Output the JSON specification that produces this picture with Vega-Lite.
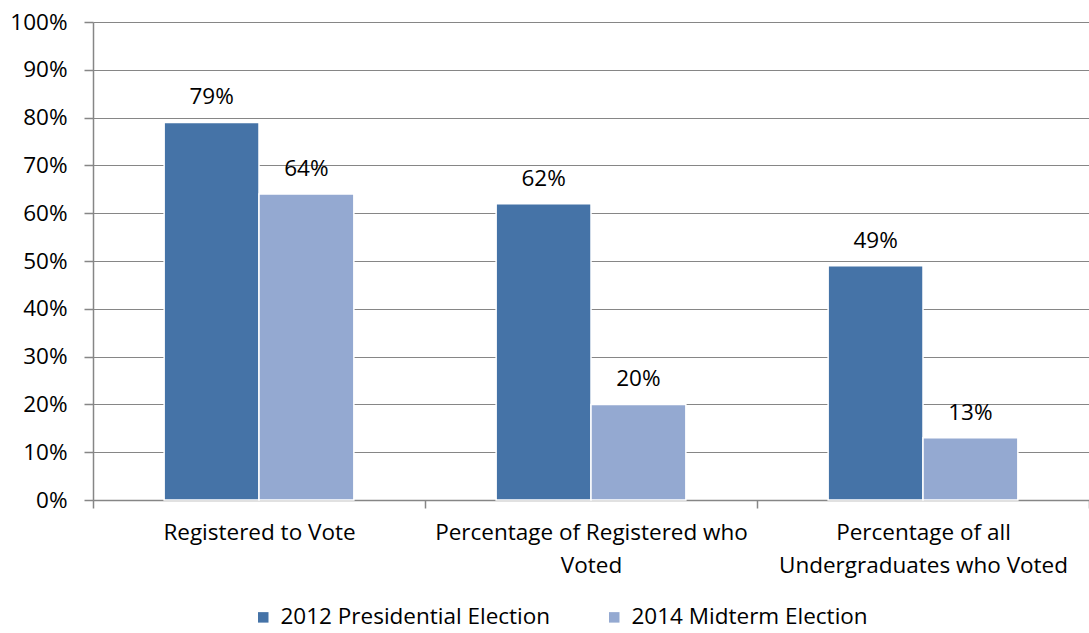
{
  "$schema": "https://vega.github.io/schema/vega-lite/v6.json",
  "autosize": {"type": "none"},
  "width": 996,
  "height": 478,
  "padding": {"left": 93, "top": 22, "right": 0, "bottom": 133},
  "background": "white",
  "config": {
    "font": "Open Sans",
    "view": {"stroke": null},
    "axis": {"labelFont": "Open Sans", "labelFontSize": 22.5, "labelColor": "#000000", "domainColor": "#868686", "tickColor": "#868686", "gridColor": "#868686"}
  },
  "data": {
    "values": [
      {"category": "Registered to Vote", "series": "2012 Presidential Election", "value": 0.79},
      {"category": "Registered to Vote", "series": "2014 Midterm Election", "value": 0.64},
      {"category": "Percentage of Registered who|Voted", "series": "2012 Presidential Election", "value": 0.62},
      {"category": "Percentage of Registered who|Voted", "series": "2014 Midterm Election", "value": 0.20},
      {"category": "Percentage of all|Undergraduates who Voted", "series": "2012 Presidential Election", "value": 0.49},
      {"category": "Percentage of all|Undergraduates who Voted", "series": "2014 Midterm Election", "value": 0.13}
    ]
  },
  "encoding": {
    "x": {
      "field": "category", "type": "nominal", "sort": null, "title": null,
      "scale": {"paddingInner": 0, "paddingOuter": 0},
      "axis": {"labelAngle": 0, "tickBand": "extent", "tickSize": 8, "labelPadding": 13, "labelLimit": 0, "labelExpr": "datum.value ? split(datum.value, '|') : ''", "labelLineHeight": 33, "labelBaseline": "top", "domainWidth": 1.5, "tickWidth": 1.5}
    },
    "xOffset": {"field": "series", "type": "nominal", "scale": {"paddingInner": 0, "paddingOuter": 0.75}},
    "y": {
      "field": "value", "type": "quantitative", "title": null,
      "scale": {"domain": [0, 1], "nice": false},
      "axis": {"format": ".0%", "values": [0, 0.1, 0.2, 0.3, 0.4, 0.5, 0.6, 0.7, 0.8, 0.9, 1], "tickSize": 9, "labelPadding": 17, "grid": true, "gridWidth": 1.2, "domainWidth": 1.5, "tickWidth": 1.5}
    }
  },
  "layer": [
    {
      "mark": {"type": "bar", "stroke": "white", "strokeWidth": 1.5},
      "encoding": {
        "color": {
          "field": "series", "type": "nominal",
          "scale": {"domain": ["2012 Presidential Election", "2014 Midterm Election"], "range": ["#4573A7", "#94A9D1"]},
          "legend": {"orient": "none", "legendX": 159, "legendY": 584, "direction": "horizontal", "title": null, "symbolType": "square", "symbolSize": 110, "symbolStrokeWidth": 0, "labelFont": "Open Sans", "labelFontSize": 22.5, "labelColor": "#000000", "labelLimit": 0, "labelOffset": 6, "columnPadding": 52}
        }
      }
    },
    {
      "mark": {"type": "text", "baseline": "bottom", "dy": -13, "font": "Open Sans", "fontSize": 22.5, "color": "#000000"},
      "encoding": {"text": {"field": "value", "type": "quantitative", "format": ".0%"}}
    }
  ]
}
